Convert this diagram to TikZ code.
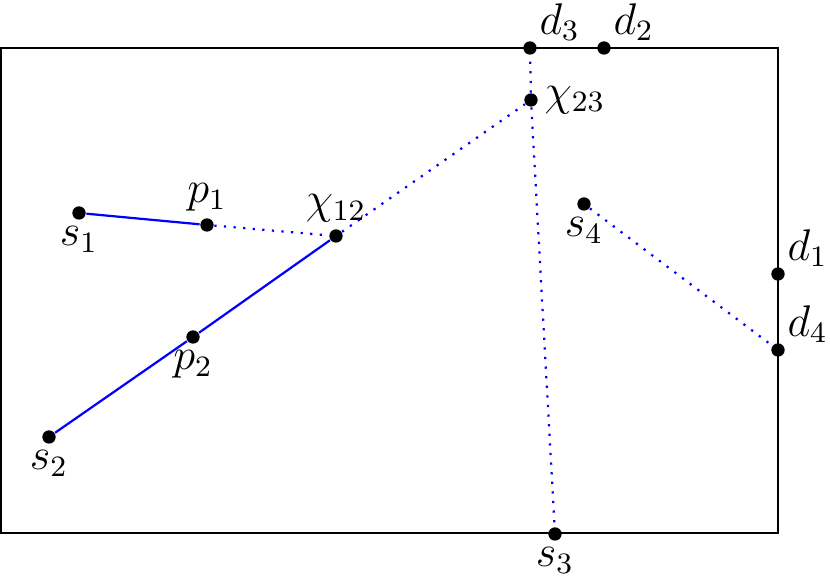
\documentclass[tikz,border=0pt]{standalone}
\usepackage{tikz}
\usetikzlibrary{arrows,shapes}
\tikzstyle{vertex}=[circle,fill=black,minimum size=3.6pt,inner sep=0pt]
\tikzstyle{seg} = [draw,blue,semithick,-]
\tikzstyle{ray} = [draw,blue,dotted,semithick,-]
\tikzstyle{dlabel}=[xshift=-0.5pt,yshift=-1.2pt]

\begin{document}
\begin{tikzpicture}[x=0.0095cm,y=-0.0095cm,every label/.style={inner sep=1.5pt,font=\large}]
                    \path [use as bounding box] (0,0) rectangle (830,576);
                    \draw[semithick] (1,48) rectangle (778,533);

                    \node[vertex,label=below:$s_1$] (s1) at (79,213) {};
                    \node[vertex,label=above:$p_1$] (p1) at (207,225) {};
                    \node[vertex,label=above:$\chi_{12}$] (x12) at (336,236) {};
                    \node[vertex,label=below:$p_2$] (p2) at (193,337) {};
                    \node[vertex,label=below:$s_2$] (s2) at (49,437) {};
                    \node[vertex,label=below:$s_3$] (s3) at (555,534) {};
                    \node[vertex,label={[dlabel]above right:$d_3$}] (d3) at (530,48) {};
                    \node[vertex,label={[dlabel]above right:$d_2$}] (d2) at (604,48) {};
                    \node[vertex,label=right:$\chi_{23}$] (x23) at (531,100) {};
                    \node[vertex,label=below:$s_4$] (s4) at (584,204) {};
                    \node[vertex,label={[dlabel]above right:$d_1$}] (d1) at (778,274) {};
                    \node[vertex,label={[dlabel]above right:$d_4$}] (d4) at (778,350) {};

                    \path[seg] (s1) -- (p1);
                    \path[seg] (s2) -- (p2);
                    \path[seg] (p2) -- (x12);
                    \path[ray] (p1) -- (x12);
                    \path[ray] (x12) -- (x23);
                    \path[ray] (x23) -- (d3);
                    \path[ray] (x23) -- (s3);
                    \path[ray] (s4) -- (d4);
                \end{tikzpicture}
\end{document}
